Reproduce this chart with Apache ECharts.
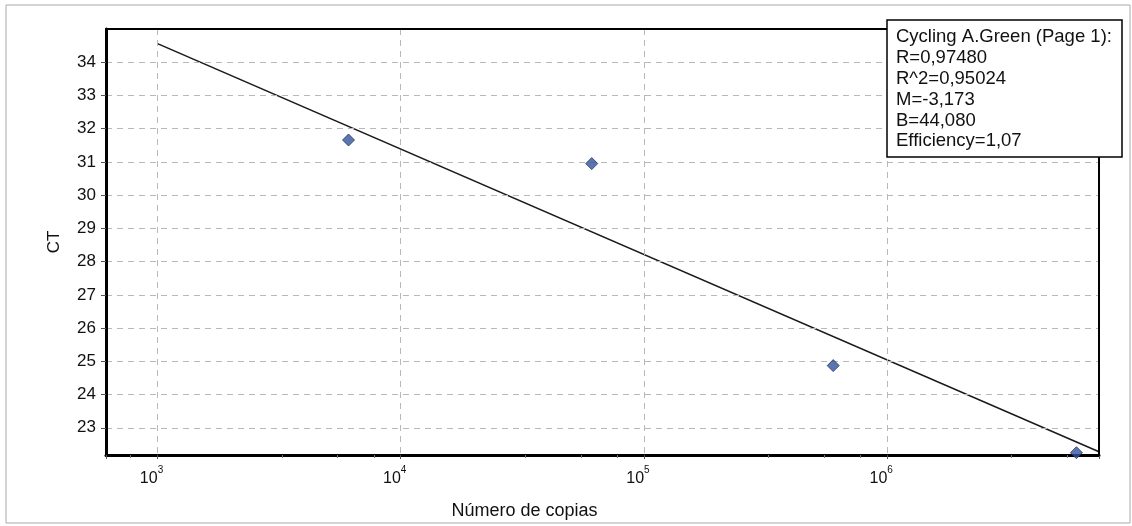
<!DOCTYPE html>
<html>
<head>
<meta charset="utf-8">
<style>
html,body{margin:0;padding:0;background:#fff;}
#chart{width:1132px;height:526px;}
</style>
<script src="https://cdn.jsdelivr.net/npm/echarts@6/dist/echarts.min.js"></script>
</head>
<body>
<div id="chart"></div>
<script>
// Data
const copies = [6100, 61000, 600000, 6000000];
const ctValues = [31.66, 30.95, 24.87, 22.25];
// Regression line end points (as drawn)
const fitX = [1000, 7430000];
const fitY = [34.56, 22.28];
const legendLines = [
  'Cycling A.Green (Page 1):',
  'R=0,97480',
  'R^2=0,95024',
  'M=-3,173',
  'B=44,080',
  'Efficiency=1,07'
];
const xMin = 614, xMax = 7430000;
const yMin = 22.18, yMax = 35;

const chart = echarts.init(document.getElementById('chart'), null, {renderer: 'canvas'});
const font = 'Liberation Sans, Arial, sans-serif';
const frameAxis = {
  axisLine: {show: true, lineStyle: {color: '#000', width: 2}},
  axisTick: {show: false}, axisLabel: {show: false}, splitLine: {show: false}, minorTick: {show: false}
};
const option = {
  backgroundColor: '#fff',
  animation: false,
  textStyle: {fontFamily: font},
  grid: {left: 106, right: 33, top: 29, bottom: 71, show: false},
  xAxis: [{
    type: 'log', logBase: 10, min: xMin, max: xMax, splitNumber: 4,
    name: 'Número de copias', nameLocation: 'middle', nameGap: 47,
    nameTextStyle: {color: '#111', fontSize: 18, fontFamily: font, padding: [0, 156, 0, 0]},
    axisLine: {show: true, lineStyle: {color: '#000', width: 3}},
    axisTick: {show: true, length: 4, lineStyle: {color: '#555'}},
    minorTick: {show: true, splitNumber: 4, length: 3, lineStyle: {color: '#777'}},
    splitLine: {show: true, lineStyle: {color: '#b8b8b8', type: [6, 5], width: 1}},
    axisLabel: {
      showMinLabel: false, showMaxLabel: false, margin: 10, padding: [0, 12, 0, 0],
      formatter: function (v) { return '{b|10}{e|' + Math.round(Math.log10(v)) + '}'; },
      rich: {
        b: {fontSize: 16, color: '#111', fontFamily: font, padding: [6, 0, 0, 0]},
        e: {fontSize: 10, color: '#111', fontFamily: font, verticalAlign: 'top'}
      }
    },
    z: 3
  }, Object.assign({type: 'log', logBase: 10, min: xMin, max: xMax, position: 'top', z: 4}, frameAxis)],
  yAxis: [{
    type: 'value', min: yMin, max: yMax, splitNumber: 13,
    name: 'CT', nameLocation: 'middle', nameGap: 43, nameRotate: 90,
    nameTextStyle: {color: '#111', fontSize: 17, fontFamily: font},
    axisLine: {show: true, lineStyle: {color: '#000', width: 3}},
    axisTick: {show: true, length: 5, lineStyle: {color: '#555'}},
    splitLine: {show: true, lineStyle: {color: '#b8b8b8', type: [6, 5], width: 1}},
    axisLabel: {showMinLabel: false, showMaxLabel: false, fontSize: 17, color: '#111', margin: 10, fontFamily: font},
    z: 3
  }, Object.assign({type: 'value', min: yMin, max: yMax, position: 'right', z: 4}, frameAxis)],
  series: [
    {
      type: 'line', data: fitX.map((x, i) => [x, fitY[i]]), showSymbol: false, symbol: 'none',
      lineStyle: {color: '#1a1a1a', width: 1.6}, z: 2, silent: true
    },
    {
      type: 'scatter', data: copies.map((x, i) => [x, ctValues[i]]), symbol: 'diamond', symbolSize: [12, 12],
      itemStyle: {color: '#33539a', borderColor: '#1e3570', borderWidth: 1}, z: 3
    }
  ],
  graphic: [
    {type: 'rect', shape: {x: 6, y: 5, width: 1124, height: 518}, style: {fill: 'none', stroke: '#a8a8a8', lineWidth: 1}, z: 0, silent: true},
    {type: 'rect', shape: {x: 887, y: 20, width: 235, height: 137}, style: {fill: '#fff', stroke: '#000', lineWidth: 1.5}, z: 100},
    {type: 'text', left: 896, top: 27, z: 101,
      style: {text: legendLines.join('\n'), fontSize: 18.5, lineHeight: 20.8, fill: '#111', fontFamily: font}}
  ]
};
chart.setOption(option);
</script>
</body>
</html>
